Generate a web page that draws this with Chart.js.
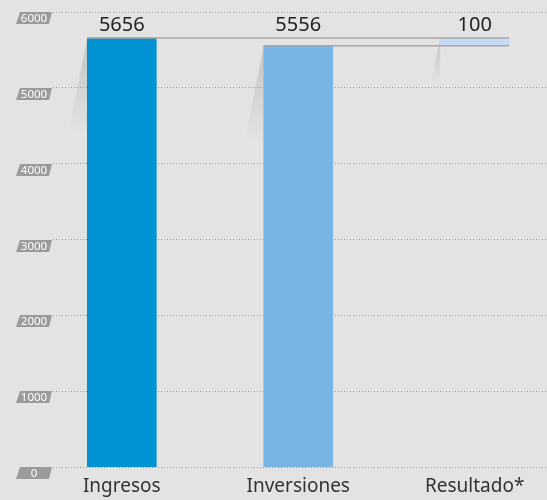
<!DOCTYPE html>
<html>
<head>
<meta charset="utf-8">
<script src="https://cdn.jsdelivr.net/npm/chart.js@4"></script>
<style>
  html, body { margin: 0; padding: 0; background: #e3e3e3; }
  #wrap { width: 547px; height: 500px; }
</style>
</head>
<body>
<div id="wrap"><canvas id="grafico"></canvas></div>
<script>
// ---------- DATOS ----------
const categorias = ["Ingresos", "Inversiones", "Resultado*"];
const valores = [5656, 5556, 100];
const inicio = [0, 0, 5556];
const fin = [5656, 5556, 5656];
const colores = ["#0092d2", "#78b5e4", "#c6dbf3"];
const ticksY = [0, 1000, 2000, 3000, 4000, 5000, 6000];

const FUENTE = "'Noto Sans', 'Open Sans', sans-serif";

// ---------- PLUGIN: fondo, etiquetas del eje y, sombras, conectores ----------
const decoracion = {
  id: "decoracion",
  beforeDraw(chart) {
    const { ctx, scales: { y } } = chart;
    ctx.save();
    ctx.fillStyle = "#e3e3e3";
    ctx.fillRect(0, 0, chart.width, chart.height);
    // etiquetas inclinadas del eje y
    ticksY.forEach(v => {
      const top = Math.round(y.getPixelForValue(v));
      const h = 12;
      ctx.fillStyle = "#9b9b9b";
      ctx.beginPath();
      ctx.moveTo(20, top);
      ctx.lineTo(52, top);
      ctx.lineTo(49, top + h);
      ctx.lineTo(16, top + h);
      ctx.closePath();
      ctx.fill();
      ctx.fillStyle = "#ffffff";
      ctx.font = "11.5px " + FUENTE;
      ctx.textAlign = "center";
      ctx.textBaseline = "middle";
      ctx.fillText(String(v), 34, top + h / 2 + 0.5);
    });
    ctx.restore();
  },
  beforeDatasetsDraw(chart) {
    const { ctx } = chart;
    const barras = chart.getDatasetMeta(0).data;
    ctx.save();
    // sombras a la izquierda de cada barra
    barras.forEach((b, i) => {
      const izq = b.x - b.width / 2;
      const top = b.y;
      const largo = i === 2 ? 45 : 95;
      const g = ctx.createLinearGradient(0, top, 0, top + largo);
      g.addColorStop(0, "rgba(150,150,150,0.4)");
      g.addColorStop(1, "rgba(150,150,150,0)");
      ctx.fillStyle = g;
      ctx.beginPath();
      ctx.moveTo(izq, top);
      ctx.lineTo(izq, top + largo);
      ctx.lineTo(izq - largo * 0.2, top + largo);
      ctx.closePath();
      ctx.fill();
    });
    ctx.restore();
  },
  afterDatasetsDraw(chart) {
    const { ctx, scales: { y } } = chart;
    const barras = chart.getDatasetMeta(0).data;
    ctx.save();
    // lineas de conexion
    ctx.strokeStyle = "#a8a8a8";
    ctx.lineWidth = 1.5;
    const derecha = barras[2].x + barras[2].width / 2;
    [[0, fin[0]], [1, fin[1]]].forEach(([i, v]) => {
      const py = y.getPixelForValue(v);
      ctx.beginPath();
      ctx.moveTo(barras[i].x - barras[i].width / 2, py);
      ctx.lineTo(derecha, py);
      ctx.stroke();
    });
    // valores encima
    ctx.fillStyle = "#222222";
    ctx.font = "20px " + FUENTE;
    ctx.textAlign = "center";
    ctx.textBaseline = "alphabetic";
    const base = y.getPixelForValue(Math.max(...fin)) - 7;
    barras.forEach((b, i) => {
      ctx.fillText(String(valores[i]), b.x, base);
    });
    ctx.restore();
  }
};

// ---------- GRAFICO ----------
const ctx = document.getElementById("grafico").getContext("2d");
new Chart(ctx, {
  type: "bar",
  data: {
    datasets: [{
      data: categorias.map((c, i) => ({ x: i, y: [inicio[i], fin[i]] })),
      backgroundColor: colores,
      barThickness: 69,
      borderWidth: 0
    }]
  },
  options: {
    responsive: true,
    maintainAspectRatio: false,
    animation: false,
    layout: { padding: { left: 53, top: 12, right: 0, bottom: 2 } },
    plugins: {
      legend: { display: false },
      tooltip: { enabled: false }
    },
    scales: {
      x: {
        type: "linear",
        offset: false,
        min: -0.39,
        max: 2.41,
        grid: { display: false },
        border: { display: false },
        ticks: {
          stepSize: 1,
          includeBounds: false,
          autoSkip: false,
          maxRotation: 0,
          padding: 0,
          color: "#333333",
          font: { family: FUENTE, size: 19 },
          callback: v => categorias[v] ?? ""
        }
      },
      y: {
        min: 0,
        max: 6000,
        display: true,
        ticks: { display: false, stepSize: 1000 },
        border: { display: false, dash: [1, 2] },
        grid: {
          color: "#9a9a9a",
          lineWidth: 1,
          drawTicks: false
        },
        afterFit(scale) { scale.width = 0; }
      }
    }
  },
  plugins: [decoracion]
});
</script>
</body>
</html>
